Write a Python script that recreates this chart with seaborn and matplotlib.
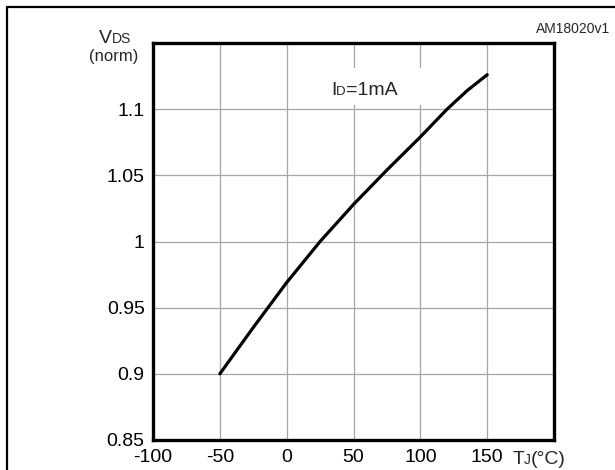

# -*- coding: utf-8 -*-
"""
Normalized V(BR)DSS versus junction temperature
"""

# import libraries
import seaborn as sns
import matplotlib.pyplot as plt
from matplotlib.patches import Rectangle
from matplotlib.lines import Line2D

# data
temp_c = [-50, -25, 0, 25, 50, 75, 100, 120, 135, 150]
vds_norm = [0.900, 0.935, 0.969, 1.000, 1.028, 1.054, 1.079, 1.100, 1.114, 1.126]

# axis ticks
x_ticks = [-100, -50, 0, 50, 100, 150]
x_tick_labels = ["-100", "-50", "0", "50", "100", "150"]
y_ticks = [0.85, 0.9, 0.95, 1.0, 1.05, 1.1]
y_tick_labels = ["0.85", "0.9", "0.95", "1", "1.05", "1.1"]

# set theme
sns.set_theme(style="whitegrid")
plt.rcParams['font.family'] = ['Liberation Sans', 'DejaVu Sans']
plt.rcParams['axes.unicode_minus'] = False

W, H = 615, 470
fig = plt.figure(figsize=(W / 100, H / 100), dpi=100)
ax = fig.add_axes([153 / W, 30 / H, 401 / W, 397 / H])


def fx(px):
    return px / W


def fy(py):
    return 1 - py / H


# curve
sns.lineplot(x=temp_c, y=vds_norm, color='black', linewidth=2.3, ax=ax, zorder=3)

ax.set_xlim(-100, 200)
ax.set_ylim(0.85, 1.15)
ax.set_xticks(x_ticks)
ax.set_xticklabels(x_tick_labels)
ax.set_yticks(y_ticks)
ax.set_yticklabels(y_tick_labels)
ax.tick_params(axis='both', length=0, labelsize=14, colors='black')
ax.tick_params(axis='x', pad=6.5)
ax.tick_params(axis='y', pad=6)
ax.grid(True, color='#a6a6a6', linewidth=0.9)
for sp in ax.spines.values():
    sp.set_color('black')
    sp.set_linewidth(2.4)
ax.set_xlabel('')
ax.set_ylabel('')

# white box behind the condition label
ax.add_patch(Rectangle((fx(300), fy(105)), fx(130), 37 / H,
                       transform=fig.transFigure, facecolor='white',
                       edgecolor='none', zorder=1.5))

# condition label I_D=1mA
fig.text(fx(331), fy(95), "I", fontsize=14, ha='left', va='baseline')
fig.text(fx(336), fy(95), "D", fontsize=9.5, ha='left', va='baseline')
fig.text(fx(346), fy(95), "=1mA", fontsize=14, ha='left', va='baseline')

# y axis label
fig.text(fx(99), fy(43), "V", fontsize=14, ha='left', va='baseline')
fig.text(fx(112), fy(43), "DS", fontsize=10, ha='left', va='baseline')
fig.text(fx(138), fy(61), "(norm)", fontsize=12, ha='right', va='baseline')

# x axis label
fig.text(fx(513), fy(464), "T", fontsize=14, ha='left', va='baseline')
fig.text(fx(524), fy(464), "J", fontsize=10, ha='left', va='baseline')
fig.text(fx(531), fy(464), "(°C)", fontsize=14, ha='left', va='baseline')

# figure code
fig.text(fx(610), fy(33), "AM18020v1", fontsize=10, ha='right', va='baseline')

# outer frame, top and left only
fig.add_artist(Line2D([fx(7), fx(615)], [fy(7), fy(7)], color='black',
                      linewidth=1.6, transform=fig.transFigure))
fig.add_artist(Line2D([fx(7), fx(7)], [fy(7), fy(470)], color='black',
                      linewidth=1.6, transform=fig.transFigure))

plt.savefig('out.png', dpi=100)
